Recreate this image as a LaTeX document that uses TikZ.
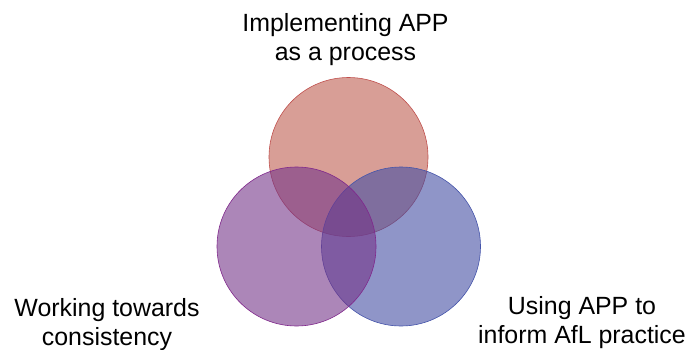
\documentclass[tikz,border=0pt]{standalone}
\usepackage{fontspec}
\setmainfont{Liberation Sans}
\definecolor{redfill}{RGB}{190,93,80}
\definecolor{redline}{RGB}{192,80,77}
\definecolor{purpfill}{RGB}{117,53,137}
\definecolor{purpline}{RGB}{128,40,140}
\definecolor{bluefill}{RGB}{68,78,163}
\definecolor{blueline}{RGB}{68,84,170}
\begin{document}
\begin{tikzpicture}[x=1bp,y=1bp,
  venn/.style={circle,minimum size=159bp,inner sep=0pt,fill opacity=0.6,line width=0.6bp},
  lbl/.style={align=center,font=\fontsize{25}{28.5}\selectfont,inner sep=0pt,anchor=base}]
\useasboundingbox (0,0) rectangle (689,349);
\node[venn,fill=redfill,draw=redline] (top) at (348.5,192) {};
\node[venn,fill=bluefill,draw=blueline] (right) at (401,102.5) {};
\node[venn,fill=purpfill,draw=purpline] (left) at (296.5,102.5) {};
\node[lbl] (ttop) at (345.5,289) {Implementing APP\\as a process};
\node[lbl] (tleft) at (107,4) {Working towards\\consistency};
\node[lbl] (tright) at (582,6) {Using APP to\\inform AfL practice};
\end{tikzpicture}
\end{document}
